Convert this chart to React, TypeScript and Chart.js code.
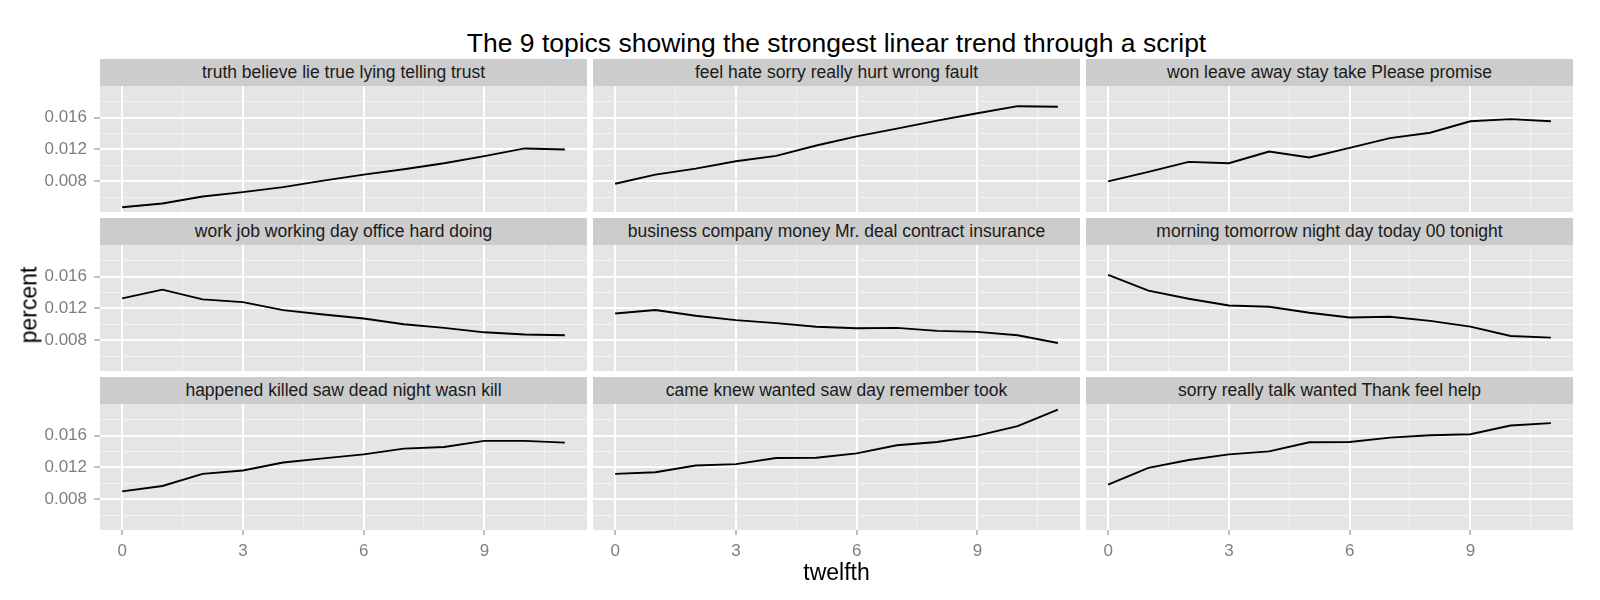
import { useEffect, useRef } from "react";
import { Chart, registerables } from "chart.js";

Chart.register(...registerables);

// ---- data ----
const twelfths = [0, 1, 2, 3, 4, 5, 6, 7, 8, 9, 10, 11];

const topics = [
  "truth believe lie true lying telling trust",
  "feel hate sorry really hurt wrong fault",
  "won leave away stay take Please promise",
  "work job working day office hard doing",
  "business company money Mr. deal contract insurance",
  "morning tomorrow night day today 00 tonight",
  "happened killed saw dead night wasn kill",
  "came knew wanted saw day remember took",
  "sorry really talk wanted Thank feel help",
];

const truthPct = [0.00476, 0.00522, 0.00611, 0.00665, 0.00728, 0.0081, 0.00884, 0.00952, 0.01027, 0.01116, 0.01213, 0.012];
const feelPct = [0.0077, 0.00884, 0.0096, 0.01053, 0.0112, 0.0125, 0.01364, 0.01461, 0.01562, 0.01655, 0.01743, 0.01735];
const wonPct = [0.008, 0.0092, 0.01044, 0.01028, 0.01175, 0.011, 0.0122, 0.01343, 0.0141, 0.01554, 0.0158, 0.01554];
const workPct = [0.01326, 0.01436, 0.01314, 0.0128, 0.0118, 0.01124, 0.01075, 0.01002, 0.00957, 0.00901, 0.00873, 0.00864];
const businessPct = [0.01137, 0.0118, 0.01108, 0.01054, 0.01016, 0.0097, 0.00953, 0.00957, 0.00919, 0.00906, 0.00864, 0.00767];
const morningPct = [0.01621, 0.01423, 0.01322, 0.01238, 0.01221, 0.01146, 0.01087, 0.01096, 0.01045, 0.00973, 0.00855, 0.00834];
const happenedPct = [0.00901, 0.00968, 0.0112, 0.01162, 0.01263, 0.01314, 0.01364, 0.01436, 0.01457, 0.01533, 0.01533, 0.01512];
const camePct = [0.0112, 0.01141, 0.01225, 0.01242, 0.01318, 0.01322, 0.01377, 0.01478, 0.0152, 0.016, 0.01718, 0.01924];
const sorryPct = [0.00985, 0.01196, 0.01293, 0.01364, 0.01402, 0.01516, 0.0152, 0.01575, 0.01604, 0.01617, 0.01726, 0.01756];

const topicSeries = [truthPct, feelPct, wonPct, workPct, businessPct, morningPct, happenedPct, camePct, sorryPct];

const xMajorTicks = [0, 3, 6, 9];
const xMinorTicks = [1.5, 4.5, 7.5, 10.5];
const yMajorTicks = [0.008, 0.012, 0.016];
const yMinorTicks = [0.006, 0.01, 0.014, 0.018];

const X_MIN = -0.55;
const X_MAX = 11.55;
const Y_MIN = 0.00416;
const Y_MAX = 0.01996;

// ---- layout ----
const FONT = "'Liberation Sans', Arial, Helvetica, sans-serif";
const COL_LEFT = [100, 593, 1086];
const PLOT_TOP = [86, 245, 404];
const PLOT_W = 487;
const PLOT_H = 126;
const STRIP_H = 27;
const Y_AXIS_W = 100;
const X_AXIS_H = 40;

const near = (list: number[], v: number) => list.some(t => Math.abs(t - v) < 1e-9);

const panelBackground = {
  id: "panelBackground",
  beforeDraw(chart: Chart) {
    const { ctx, chartArea: a } = chart;
    ctx.save();
    ctx.fillStyle = "#E5E5E5";
    ctx.fillRect(a.left, a.top, a.right - a.left, a.bottom - a.top);
    ctx.restore();
  },
};

function zeroPadding(scale: any) {
  scale.paddingLeft = 0;
  scale.paddingRight = 0;
  scale.paddingTop = 0;
  scale.paddingBottom = 0;
}

interface PanelProps {
  label: string;
  values: number[];
  row: number;
  col: number;
}

function Panel({ label, values, row, col }: PanelProps) {
  const chartRef = useRef<HTMLCanvasElement>(null);
  const showY = col === 0;
  const showX = row === 2;
  const canvasLeft = showY ? 0 : COL_LEFT[col];
  const canvasW = showY ? COL_LEFT[0] + PLOT_W : PLOT_W;
  const canvasH = showX ? PLOT_H + X_AXIS_H : PLOT_H;

  useEffect(() => {
    if (!chartRef.current) return;
    const ctx = chartRef.current.getContext("2d");
    if (!ctx) return;

    const chart = new Chart(ctx, {
      type: "line",
      data: {
        datasets: [
          {
            data: twelfths.map((t, i) => ({ x: t, y: values[i] })),
            borderColor: "#000000",
            borderWidth: 1.9,
            pointRadius: 0,
            tension: 0,
            fill: false,
          },
        ],
      },
      options: {
        animation: false,
        responsive: false,
        events: [],
        layout: { padding: 0 },
        plugins: {
          legend: { display: false },
          tooltip: { enabled: false },
        },
        scales: {
          x: {
            type: "linear",
            min: X_MIN,
            max: X_MAX,
            afterBuildTicks: (s: any) => {
              s.ticks = [...xMajorTicks, ...xMinorTicks].sort((a, b) => a - b).map(value => ({ value }));
            },
            afterFit: (s: any) => {
              s.height = showX ? X_AXIS_H : 0;
              zeroPadding(s);
            },
            border: { display: false },
            grid: {
              color: (c: any) => (near(xMajorTicks, c.tick.value) ? "#FFFFFF" : "#F2F2F2"),
              lineWidth: (c: any) => (near(xMajorTicks, c.tick.value) ? 2 : 1),
              drawTicks: showX,
              tickLength: 5,
              tickWidth: 1,
              tickColor: (c: any) => (near(xMajorTicks, c.tick.value) ? "#7F7F7F" : "rgba(0,0,0,0)"),
            },
            ticks: {
              display: showX,
              autoSkip: false,
              maxRotation: 0,
              padding: 6,
              color: "#7F7F7F",
              font: { family: FONT, size: 17 },
              callback: (v: any) => (near(xMajorTicks, Number(v)) ? String(v) : ""),
            },
          },
          y: {
            type: "linear",
            min: Y_MIN,
            max: Y_MAX,
            afterBuildTicks: (s: any) => {
              s.ticks = [...yMajorTicks, ...yMinorTicks].sort((a, b) => a - b).map(value => ({ value }));
            },
            afterFit: (s: any) => {
              s.width = showY ? Y_AXIS_W : 0;
              zeroPadding(s);
            },
            border: { display: false },
            grid: {
              color: (c: any) => (near(yMajorTicks, c.tick.value) ? "#FFFFFF" : "#F2F2F2"),
              lineWidth: (c: any) => (near(yMajorTicks, c.tick.value) ? 2 : 1),
              drawTicks: showY,
              tickLength: 6,
              tickWidth: 1,
              tickColor: (c: any) => (near(yMajorTicks, c.tick.value) ? "#7F7F7F" : "rgba(0,0,0,0)"),
            },
            ticks: {
              display: showY,
              autoSkip: false,
              padding: 7,
              color: "#7F7F7F",
              font: { family: FONT, size: 17 },
              callback: (v: any) => (near(yMajorTicks, Number(v)) ? Number(v).toFixed(3) : ""),
            },
          },
        },
      },
      plugins: [panelBackground],
    });

    return () => {
      chart.destroy();
    };
  }, [values, showX, showY]);

  return (
    <>
      <div
        style={{
          position: "absolute",
          left: COL_LEFT[col],
          top: PLOT_TOP[row] - STRIP_H,
          width: PLOT_W,
          height: STRIP_H,
          background: "#CCCCCC",
          color: "#1A1A1A",
          fontSize: 17.5,
          lineHeight: `${STRIP_H}px`,
          textAlign: "center",
          whiteSpace: "nowrap",
        }}
      >
        {label}
      </div>
      <canvas
        ref={chartRef}
        width={canvasW}
        height={canvasH}
        style={{ position: "absolute", left: canvasLeft, top: PLOT_TOP[row], width: canvasW, height: canvasH }}
      />
    </>
  );
}

export default function App() {
  return (
    <div
      style={{
        position: "fixed",
        left: 0,
        top: 0,
        width: 1600,
        height: 600,
        background: "#FFFFFF",
        fontFamily: FONT,
        overflow: "hidden",
      }}
    >
      <div
        style={{
          position: "absolute",
          left: COL_LEFT[0],
          width: COL_LEFT[2] + PLOT_W - COL_LEFT[0],
          top: 30,
          fontSize: 26.5,
          lineHeight: "26px",
          textAlign: "center",
          color: "#000000",
          whiteSpace: "nowrap",
        }}
      >
        The 9 topics showing the strongest linear trend through a script
      </div>

      {topics.map((label, i) => (
        <Panel key={label} label={label} values={topicSeries[i]} row={Math.floor(i / 3)} col={i % 3} />
      ))}

      <div
        style={{
          position: "absolute",
          left: COL_LEFT[0],
          width: COL_LEFT[2] + PLOT_W - COL_LEFT[0],
          top: 561,
          fontSize: 23,
          lineHeight: "23px",
          textAlign: "center",
          color: "#000000",
        }}
      >
        twelfth
      </div>

      <div
        style={{
          position: "absolute",
          left: 29,
          top: 305,
          transform: "translate(-50%, -50%) rotate(-90deg)",
          fontSize: 23,
          lineHeight: "23px",
          color: "#000000",
          whiteSpace: "nowrap",
        }}
      >
        percent
      </div>
    </div>
  );
}
